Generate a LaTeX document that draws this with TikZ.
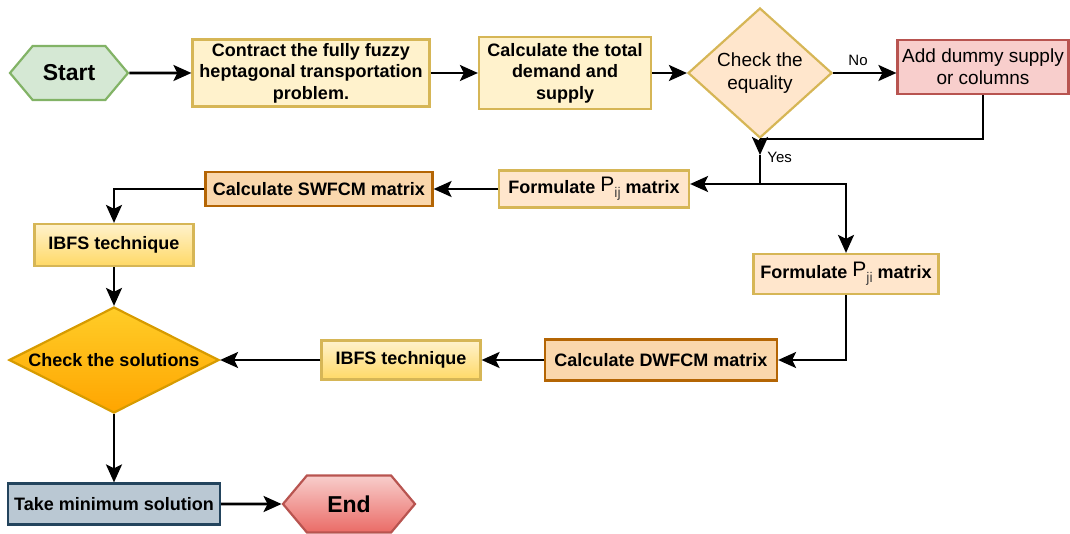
\documentclass[tikz,border=0pt]{standalone}
\usepackage{fontspec}
\setmainfont{Liberation Sans}
\usepackage{tikz}
\usetikzlibrary{arrows.meta, shapes.geometric, shapes.symbols}
\definecolor{greenfill}{HTML}{D5E8D4}
\definecolor{greenline}{HTML}{82B366}
\definecolor{yellowfill}{HTML}{FFF2CC}
\definecolor{yellowdark}{HTML}{FFD966}
\definecolor{yellowline}{HTML}{D6B656}
\definecolor{peachfill}{HTML}{FFE6CC}
\definecolor{orangefill}{HTML}{FAD7AC}
\definecolor{orangeline}{HTML}{B46504}
\definecolor{goldtop}{HTML}{FFCD28}
\definecolor{goldbottom}{HTML}{FFA500}
\definecolor{goldline}{HTML}{D79B00}
\definecolor{redfill}{HTML}{F8CECC}
\definecolor{reddark}{HTML}{EA6B66}
\definecolor{redline}{HTML}{B85450}
\definecolor{bluefill}{HTML}{BAC8D3}
\definecolor{blueline}{HTML}{23445D}
\newcommand{\Psub}[1]{{\mdseries\raisebox{1pt}{\fontsize{10.5}{12}\selectfont P}\raisebox{-2.2pt}{\fontsize{7}{8}\selectfont\color{darkgray}#1}}}

\begin{document}
\begin{tikzpicture}[x=0.5pt, y=-0.5pt,
  box/.style={rectangle, draw, line width=1.1pt, inner sep=0pt, align=center,
    font=\fontsize{9}{10.8}\selectfont\bfseries},
  hexa/.style={signal, signal to=west and east, signal pointer angle=100, draw,
    line width=1.1pt, inner sep=0pt, font=\fontsize{11.5}{13}\selectfont\bfseries},
  decide/.style={diamond, draw, line width=1.1pt, inner sep=0pt, align=center},
  lbl/.style={font=\fontsize{7.5}{9}\selectfont, inner sep=0pt},
  arr/.style={line width=1.3pt, -{Stealth[length=9pt, width=8pt, inset=2pt]}},
  con/.style={line width=1.3pt}]
  \useasboundingbox (0,0) rectangle (1070,534);

  % top row
  \node[hexa, fill=greenfill, draw=greenline, minimum width=59pt, minimum height=27pt]
    (start) at (69,73) {Start};
  \node[box, fill=yellowfill, draw=yellowline, minimum width=118.5pt, minimum height=33.5pt]
    (contract) at (311,73) {Contract the fully fuzzy\\heptagonal transportation\\problem.};
  \node[box, fill=yellowfill, draw=yellowline, minimum width=86pt, minimum height=36pt]
    (calc) at (565,73) {Calculate the total\\demand and\\supply};
  \node[decide, fill=peachfill, draw=yellowline, minimum width=72pt, minimum height=65pt,
    font=\fontsize{9.5}{11.5}\selectfont] (check) at (760,73) {Check the\\equality};
  \node[box, fill=redfill, draw=redline, minimum width=85.5pt, minimum height=27pt,
    font=\fontsize{9.5}{11}\selectfont] (dummy) at (983,67) {Add dummy supply\\or columns};

  % middle part
  \node[box, fill=peachfill, draw=yellowline, minimum width=95pt, minimum height=18.5pt]
    (pij) at (594,189) {Formulate \Psub{ij} matrix};
  \node[box, fill=orangefill, draw=orangeline, minimum width=113.5pt, minimum height=17pt]
    (swfcm) at (319,189) {Calculate SWFCM matrix};
  \node[box, top color=yellowfill, bottom color=yellowdark, draw=yellowline,
    minimum width=79.5pt, minimum height=21pt] (ibfsa) at (114,245) {IBFS technique};
  \node[box, fill=peachfill, draw=yellowline, minimum width=92.5pt, minimum height=20pt]
    (pji) at (846,274) {Formulate \Psub{ji} matrix};
  \node[box, fill=orangefill, draw=orangeline, minimum width=116pt, minimum height=20.5pt]
    (dwfcm) at (661,360) {Calculate DWFCM matrix};
  \node[box, top color=yellowfill, bottom color=yellowdark, draw=yellowline,
    minimum width=79.5pt, minimum height=19.5pt] (ibfsb) at (401,360) {IBFS technique};
  \node[decide, top color=goldtop, bottom color=goldbottom, draw=goldline, aspect=2,
    minimum width=105pt, minimum height=53pt, font=\fontsize{9}{10.8}\selectfont\bfseries]
    (checksol) at (114,360) {Check the solutions};

  % bottom row
  \node[box, fill=bluefill, draw=blueline, minimum width=106pt, minimum height=20.5pt]
    (takemin) at (114,504) {Take minimum solution};
  \node[hexa, top color=redfill, bottom color=reddark, draw=redline,
    minimum width=66pt, minimum height=28.5pt] (end) at (349,504) {End};

  \coordinate (yes) at (760,155);
  \coordinate (split) at (760,184);
  \node[lbl, anchor=west] (yeslbl) at (767,157) {Yes};
  \node[lbl] (nolbl) at (858,60) {No};

  \draw[arr] (start) -- (contract);
  \draw[arr] (contract) -- (calc);
  \draw[arr] (calc) -- (check);
  \draw[arr] (check.east) -- (check.east -| dummy.west);
  \draw[con] (dummy.south) |- (check.south);
  \draw[arr] (check.south) -- (yes);
  \draw[con] (yes) -- (split);
  \draw[arr] (split) -- (split -| pij.east);
  \draw[arr] (split) -| (pji.north);
  \draw[arr] (pij) -- (swfcm);
  \draw[arr] (swfcm.west) -| (ibfsa.north);
  \draw[arr] (ibfsa) -- (checksol);
  \draw[arr] (pji.south) |- (dwfcm.east);
  \draw[arr] (dwfcm) -- (ibfsb);
  \draw[arr] (ibfsb) -- (checksol);
  \draw[arr] (checksol) -- (takemin);
  \draw[arr] (takemin) -- (end);
\end{tikzpicture}
\end{document}
